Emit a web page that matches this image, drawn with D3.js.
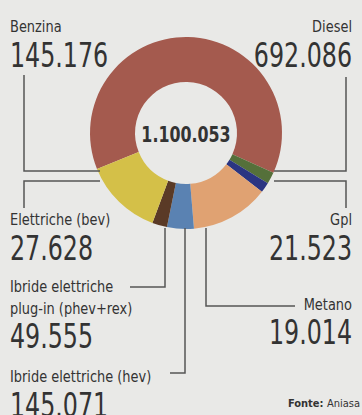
<!DOCTYPE html>
<html>
<head>
<meta charset="utf-8">
<script src="https://cdn.jsdelivr.net/npm/d3@7"></script>
<style>
  body { margin: 0; background: #e9e9e7; }
  svg { display: block; }
  text { fill: #333; font-family: 'DejaVu Sans Condensed', 'DejaVu Sans', sans-serif; }
</style>
</head>
<body>
<div id="chart"></div>
<script>
// clockwise order, starting on the left side of the ring
const categories = ['Diesel', 'Gpl', 'Metano', 'Ibride elettriche (hev)', 'Ibride elettriche plug-in (phev+rex)', 'Elettriche (bev)', 'Benzina']
const values = [692086, 21523, 19014, 145071, 49555, 27628, 145176]
const colors = ['#a45a4e', '#55703a', '#2b3582', '#e0a272', '#5a82b2', '#5a3a26', '#d4c048']
const total = 1100053

const width = 362
const height = 415
const cx = 186
const cy = 133

const svg = d3.select('#chart').append('svg')
  .attr('width', width)
  .attr('height', height)

const fmt = n => d3.format(',')(n).replace(/,/g, '.')

// the paper uses a condensed face: squeeze the text horizontally
// with a transform, keeping it anchored at x
const squeezed = (parent, str, x, y, f, anchor, size, weight) => {
  const t = parent.append('text')
    .attr('text-anchor', anchor)
    .attr('transform', `translate(${x}, ${y}) scale(${f}, 1)`)
    .style('font-size', size + 'px')
    .style('font-weight', weight || 'normal')
    .text(str)
  return t
}

// donut
const pie = d3.pie()
  .sort(null)
  .startAngle(-112 * Math.PI / 180)
  .endAngle(248 * Math.PI / 180)
  .value(d => d)

const arc = d3.arc()
  .innerRadius(51)
  .outerRadius(96)

const ring = svg.append('g')
  .attr('transform', `translate(${cx}, ${cy})`)

ring.selectAll('path')
  .data(pie(values))
  .enter().append('path')
  .attr('d', arc)
  .style('fill', (d, i) => colors[i])

squeezed(ring, fmt(total), 0, 9, 0.84, 'middle', 21, 'bold')

// leader lines
const leaders = [
  'M24,75V171H100',
  'M100,181H24V208',
  'M346,77V171H274',
  'M274,181H346V208',
  'M165,228V287H130',
  'M185,228V373H170',
  'M206,228V306H295'
]

svg.append('g')
  .selectAll('path')
  .data(leaders)
  .enter().append('path')
  .attr('d', d => d)
  .style('fill', 'none')
  .style('stroke', '#555')
  .style('stroke-width', 1.5)

// labels: name lines, value, anchor position
const labels = [
  { name: ['Benzina'], value: 145176, x: 10, y: 32, vy: 67, anchor: 'start' },
  { name: ['Diesel'], value: 692086, x: 352, y: 32, vy: 67, anchor: 'end' },
  { name: ['Elettriche (bev)'], value: 27628, x: 10, y: 225, vy: 260, anchor: 'start' },
  { name: ['Gpl'], value: 21523, x: 352, y: 225, vy: 260, anchor: 'end' },
  { name: ['Ibride elettriche', 'plug-in (phev+rex)'], value: 49555, x: 10, y: 292, vy: 348, anchor: 'start' },
  { name: ['Metano'], value: 19014, x: 352, y: 310, vy: 344, anchor: 'end' },
  { name: ['Ibride elettriche (hev)'], value: 145071, x: 10, y: 382, vy: 417, anchor: 'start' }
]

const lg = svg.append('g')
  .selectAll('g')
  .data(labels)
  .enter().append('g')

lg.each(function (d) {
  const g = d3.select(this)
  d.name.forEach((line, i) => {
    squeezed(g, line, d.x, d.y + i * 22, 0.9, d.anchor, 16)
  })
  squeezed(g, fmt(d.value), d.x, d.vy, 0.8, d.anchor, 33)
})

const source = svg.append('text')
  .attr('x', 360)
  .attr('y', 407)
  .attr('text-anchor', 'end')
  .style('font-size', '11px')
source.append('tspan').style('font-weight', 'bold').text('Fonte: ')
source.append('tspan').text('Aniasa')
</script>
</body>
</html>
